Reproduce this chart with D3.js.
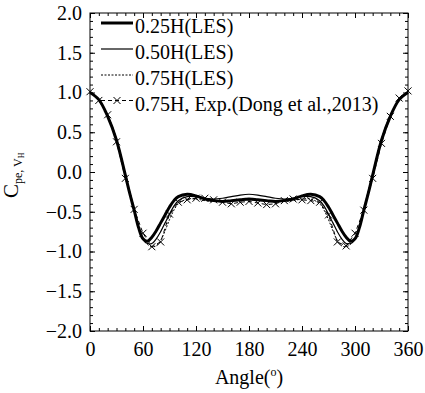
<!DOCTYPE html>
<html>
<head>
<meta charset="utf-8">
<script src="https://cdn.jsdelivr.net/npm/d3@7"></script>
<style>
  body { margin: 0; background: #fff; }
  svg { display: block; }
  svg text { font-family: "Liberation Serif", Tinos, "Times New Roman", "DejaVu Serif", serif; }
</style>
</head>
<body>
<div id="chart"></div>
<script>
// LES angles (denser around the suction minima)
const lesAngles = [0, 10, 20, 30, 40, 45, 50, 55, 60, 65, 70, 75, 80, 85, 90, 95, 100,
  110, 120, 130, 140, 150, 160, 170, 180, 190, 200, 210, 220, 230, 240, 250,
  260, 265, 270, 275, 280, 285, 290, 295, 300, 305, 310, 315, 320, 330, 340, 350, 360];

const les025 = [1.00, 0.91, 0.70, 0.40, -0.04, -0.27, -0.48, -0.70, -0.84, -0.87, -0.82, -0.74, -0.64, -0.54, -0.44, -0.36, -0.31,
  -0.28, -0.30, -0.34, -0.36, -0.37, -0.36, -0.35, -0.34, -0.35, -0.36, -0.37, -0.36, -0.34, -0.30, -0.28,
  -0.31, -0.36, -0.44, -0.54, -0.64, -0.74, -0.82, -0.87, -0.84, -0.70, -0.48, -0.27, -0.04, 0.40, 0.70, 0.91, 1.00];

const les050 = [1.00, 0.91, 0.71, 0.41, -0.03, -0.26, -0.48, -0.70, -0.85, -0.90, -0.90, -0.84, -0.75, -0.64, -0.53, -0.43, -0.36,
  -0.31, -0.31, -0.33, -0.34, -0.33, -0.31, -0.29, -0.28, -0.29, -0.31, -0.33, -0.34, -0.33, -0.31, -0.31,
  -0.36, -0.43, -0.53, -0.64, -0.75, -0.84, -0.90, -0.90, -0.85, -0.70, -0.48, -0.26, -0.03, 0.41, 0.71, 0.91, 1.00];

const les075 = [1.00, 0.90, 0.71, 0.41, -0.02, -0.24, -0.46, -0.68, -0.84, -0.91, -0.94, -0.93, -0.86, -0.74, -0.60, -0.48, -0.40,
  -0.34, -0.34, -0.36, -0.37, -0.37, -0.36, -0.35, -0.35, -0.35, -0.36, -0.37, -0.37, -0.36, -0.34, -0.34,
  -0.40, -0.48, -0.60, -0.74, -0.86, -0.93, -0.94, -0.91, -0.84, -0.68, -0.46, -0.24, -0.02, 0.41, 0.71, 0.90, 1.00];

// experiment (Dong et al., 2013), every 10 degrees
const expAngles = d3.range(0, 361, 10);
const exp075 = [1.01, 0.90, 0.72, 0.38, -0.08, -0.47, -0.77, -0.94, -0.88, -0.53, -0.38, -0.35, -0.33, -0.33, -0.35, -0.38, -0.40, -0.38, -0.37,
  -0.39, -0.41, -0.40, -0.36, -0.34, -0.35, -0.36, -0.38, -0.54, -0.88, -0.93, -0.77, -0.48, -0.08, 0.36, 0.70, 0.93, 1.02];

const xTicks = [0, 60, 120, 180, 240, 300, 360];
const yTicks = [-2.0, -1.5, -1.0, -0.5, 0.0, 0.5, 1.0, 1.5, 2.0];
const legendLabels = ['0.25H(LES)', '0.50H(LES)', '0.75H(LES)', '0.75H, Exp.(Dong et al.,2013)'];

const width = 425, height = 393;
const plotLeft = 90, plotRight = 408, plotTop = 13, plotBottom = 331;
const serif = '"Liberation Serif", Tinos, "Times New Roman", "DejaVu Serif", serif';

const svg = d3.select('#chart').append('svg')
  .attr('width', width)
  .attr('height', height)
  .attr('font-family', serif);

const x = d3.scaleLinear().domain([0, 360]).range([plotLeft, plotRight]);
const y = d3.scaleLinear().domain([-2, 2]).range([plotBottom, plotTop]);

// axes, ticks pointing inwards on all four sides
function styleAxis(g) {
  g.select('.domain').remove();
  g.attr('font-family', serif).attr('font-size', 20);
  g.selectAll('line').attr('stroke', '#000');
  g.selectAll('text').attr('fill', '#000');
}

const minorX = d3.range(0, 361, 10);
const minorY = d3.range(-20, 21).map(d => d / 10);

svg.append('g').attr('transform', `translate(0,${plotBottom})`)
  .call(d3.axisBottom(x).tickValues(minorX).tickSize(-3).tickFormat(''))
  .call(styleAxis);
svg.append('g').attr('transform', `translate(0,${plotBottom})`)
  .call(d3.axisBottom(x).tickValues(xTicks).tickSize(-5).tickPadding(11).tickFormat(d3.format('d')))
  .call(styleAxis);
svg.append('g').attr('transform', `translate(0,${plotTop})`)
  .call(d3.axisTop(x).tickValues(minorX).tickSize(-3).tickFormat(''))
  .call(styleAxis);
svg.append('g').attr('transform', `translate(0,${plotTop})`)
  .call(d3.axisTop(x).tickValues(xTicks).tickSize(-5).tickFormat(''))
  .call(styleAxis);

svg.append('g').attr('transform', `translate(${plotLeft},0)`)
  .call(d3.axisLeft(y).tickValues(minorY).tickSize(-3).tickFormat(''))
  .call(styleAxis);
svg.append('g').attr('transform', `translate(${plotLeft},0)`)
  .call(d3.axisLeft(y).tickValues(yTicks).tickSize(-5).tickPadding(8).tickFormat(d3.format('.1f')))
  .call(styleAxis);
svg.append('g').attr('transform', `translate(${plotRight},0)`)
  .call(d3.axisRight(y).tickValues(minorY).tickSize(-3).tickFormat(''))
  .call(styleAxis);
svg.append('g').attr('transform', `translate(${plotRight},0)`)
  .call(d3.axisRight(y).tickValues(yTicks).tickSize(-5).tickFormat(''))
  .call(styleAxis);

// frame
svg.append('rect')
  .attr('x', plotLeft).attr('y', plotTop)
  .attr('width', plotRight - plotLeft).attr('height', plotBottom - plotTop)
  .attr('fill', 'none').attr('stroke', '#000').attr('stroke-width', 1);

// axis titles
const xt = svg.append('text')
  .attr('x', (plotLeft + plotRight) / 2).attr('y', 384)
  .attr('text-anchor', 'middle')
  .attr('font-size', 20);
xt.append('tspan').text('Angle(');
xt.append('tspan').attr('dy', -8).attr('font-size', 12).text('o');
xt.append('tspan').attr('dy', 8).text(')');

const yt = svg.append('text')
  .attr('transform', 'translate(18,198) rotate(-90)')
  .attr('font-size', 21);
yt.append('tspan').text('C');
yt.append('tspan').attr('dy', 4).attr('font-size', 12).text('pe, V');
yt.append('tspan').attr('dy', 2).attr('font-size', 8).text('H');

// series
const series = [
  { angles: lesAngles, values: les025, width: 3, dash: null },
  { angles: lesAngles, values: les050, width: 1.2, dash: null },
  { angles: lesAngles, values: les075, width: 1, dash: '2,1.5' },
  { angles: expAngles, values: exp075, width: 1, dash: '4,3', marker: true }
];

const smooth = d3.line()
  .x(d => x(d[0]))
  .y(d => y(d[1]))
  .curve(d3.curveCatmullRom.alpha(0.5));
const straight = d3.line()
  .x(d => x(d[0]))
  .y(d => y(d[1]));

const cross = (cx, cy, r) => `M${cx - r},${cy - r}L${cx + r},${cy + r}M${cx - r},${cy + r}L${cx + r},${cy - r}`;

// draw experiment first so the LES lines sit on top
series.slice().reverse().forEach(s => {
  const pts = s.angles.map((a, i) => [a, s.values[i]]);
  svg.append('path')
    .attr('d', (s.marker ? straight : smooth)(pts))
    .attr('fill', 'none')
    .attr('stroke', '#000')
    .attr('stroke-width', s.width)
    .attr('stroke-dasharray', s.dash);
  if (s.marker) {
    svg.append('g').selectAll('path')
      .data(pts)
      .enter()
      .append('path')
      .attr('d', d => cross(x(d[0]), y(d[1]), 3.5))
      .attr('stroke', '#000')
      .attr('stroke-width', 1);
  }
});

// legend
const legend = svg.append('g');
const rowY = [23, 49, 75, 100.5];
series.forEach((s, i) => {
  legend.append('line')
    .attr('x1', 101).attr('x2', 133)
    .attr('y1', rowY[i]).attr('y2', rowY[i])
    .attr('stroke', '#000')
    .attr('stroke-width', s.width)
    .attr('stroke-dasharray', s.dash);
  if (s.marker) {
    legend.append('path')
      .attr('d', cross(117, rowY[i], 3.5))
      .attr('stroke', '#000');
  }
  legend.append('text')
    .attr('x', 135).attr('y', rowY[i] + 10)
    .attr('font-size', 20)
    .text(legendLabels[i]);
});
</script>
</body>
</html>
